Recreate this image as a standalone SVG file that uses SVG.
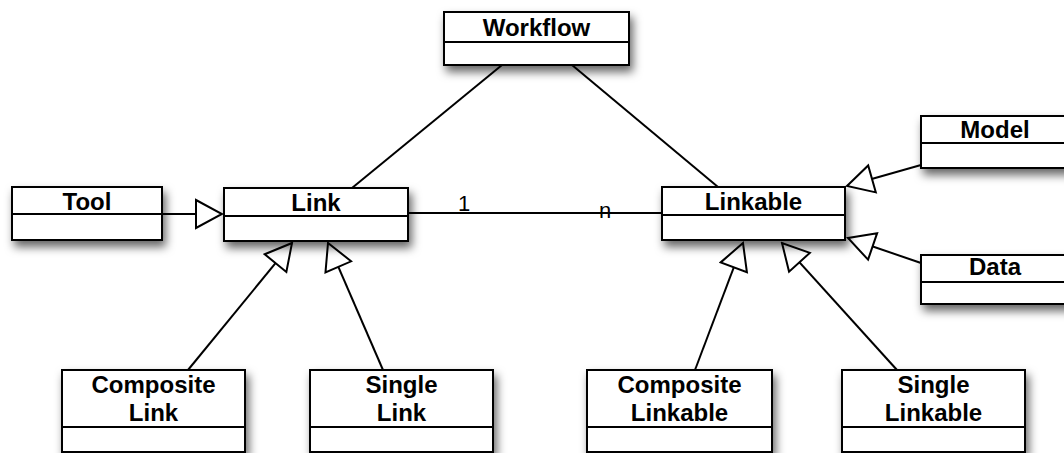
<svg xmlns="http://www.w3.org/2000/svg" width="1064" height="453" viewBox="0 0 1064 453">
  <style>
    .box { fill: #ffffff; stroke: #000000; stroke-width: 2; }
    .div { stroke: #000000; stroke-width: 2; }
    .name { font-family: "Liberation Sans", Arial, sans-serif; font-weight: bold; font-size: 24px; text-anchor: middle; fill: #000000; }
    .mult { font-family: "Liberation Sans", Arial, sans-serif; font-size: 22px; text-anchor: middle; fill: #000000; }
    .edge { fill: none; stroke: #000000; stroke-width: 2; }
    .gen { marker-end: url(#hollow); }
  </style>
  <defs>
    <filter id="shadow" x="-20%" y="-30%" width="140%" height="180%">
      <feDropShadow dx="3" dy="6" stdDeviation="5" flood-color="#000000" flood-opacity="0.6"/>
    </filter>
    <marker id="hollow" markerUnits="userSpaceOnUse" markerWidth="30" markerHeight="32" viewBox="-2 -2 30 32" refX="26" refY="14" orient="auto">
      <path d="M0,0 L26,14 L0,28 Z" fill="#ffffff" stroke="#000000" stroke-width="2" stroke-linejoin="miter"/>
    </marker>
  </defs>

  <rect width="1064" height="453" fill="#ffffff"/>

  <g id="connectors">
    <path class="edge" d="M502,65 L352,188"/>
    <path class="edge" d="M572,65 L718,187"/>
    <path class="edge" d="M408,213 L662,213"/>
    <path class="edge gen" d="M162,214 L222,214"/>
    <path class="edge gen" d="M921,165 L847,186"/>
    <path class="edge gen" d="M921,263 L848,238"/>
    <path class="edge gen" d="M188,370 L292,243"/>
    <path class="edge gen" d="M383,370 L328,243"/>
    <path class="edge gen" d="M695,370 L743,243"/>
    <path class="edge gen" d="M897,370 L782,243"/>
    <text class="mult" x="464" y="211">1</text>
    <text class="mult" x="605" y="218">n</text>
  </g>

  <g id="workflow">
    <rect class="box" x="444" y="12" width="185" height="53" filter="url(#shadow)"/>
    <line class="div" x1="444" y1="42" x2="629" y2="42"/>
    <text class="name" x="536.5" y="36">Workflow</text>
  </g>

  <g id="tool">
    <rect class="box" x="12" y="187" width="150" height="53" filter="url(#shadow)"/>
    <line class="div" x1="12" y1="214" x2="162" y2="214"/>
    <text class="name" x="87" y="210">Tool</text>
  </g>

  <g id="link">
    <rect class="box" x="224" y="188" width="184" height="53" filter="url(#shadow)"/>
    <line class="div" x1="224" y1="216" x2="408" y2="216"/>
    <text class="name" x="316" y="211">Link</text>
  </g>

  <g id="linkable">
    <rect class="box" x="662" y="187" width="183" height="53" filter="url(#shadow)"/>
    <line class="div" x1="662" y1="215" x2="845" y2="215"/>
    <text class="name" x="753.5" y="210">Linkable</text>
  </g>

  <g id="model">
    <rect class="box" x="921" y="116" width="150" height="52" filter="url(#shadow)"/>
    <line class="div" x1="921" y1="143" x2="1071" y2="143"/>
    <text class="name" x="995" y="138">Model</text>
  </g>

  <g id="data">
    <rect class="box" x="921" y="255" width="150" height="49" filter="url(#shadow)"/>
    <line class="div" x1="921" y1="282" x2="1071" y2="282"/>
    <text class="name" x="995" y="275">Data</text>
  </g>

  <g id="composite-link">
    <rect class="box" x="62" y="370" width="183" height="82" filter="url(#shadow)"/>
    <line class="div" x1="62" y1="427" x2="245" y2="427"/>
    <text class="name" x="153.5" y="393">Composite</text>
    <text class="name" x="153.5" y="421">Link</text>
  </g>

  <g id="single-link">
    <rect class="box" x="310" y="370" width="183" height="82" filter="url(#shadow)"/>
    <line class="div" x1="310" y1="427" x2="493" y2="427"/>
    <text class="name" x="401.5" y="393">Single</text>
    <text class="name" x="401.5" y="421">Link</text>
  </g>

  <g id="composite-linkable">
    <rect class="box" x="587" y="370" width="185" height="82" filter="url(#shadow)"/>
    <line class="div" x1="587" y1="427" x2="772" y2="427"/>
    <text class="name" x="679.5" y="393">Composite</text>
    <text class="name" x="679.5" y="421">Linkable</text>
  </g>

  <g id="single-linkable">
    <rect class="box" x="842" y="370" width="183" height="82" filter="url(#shadow)"/>
    <line class="div" x1="842" y1="427" x2="1025" y2="427"/>
    <text class="name" x="933.5" y="393">Single</text>
    <text class="name" x="933.5" y="421">Linkable</text>
  </g>
</svg>
